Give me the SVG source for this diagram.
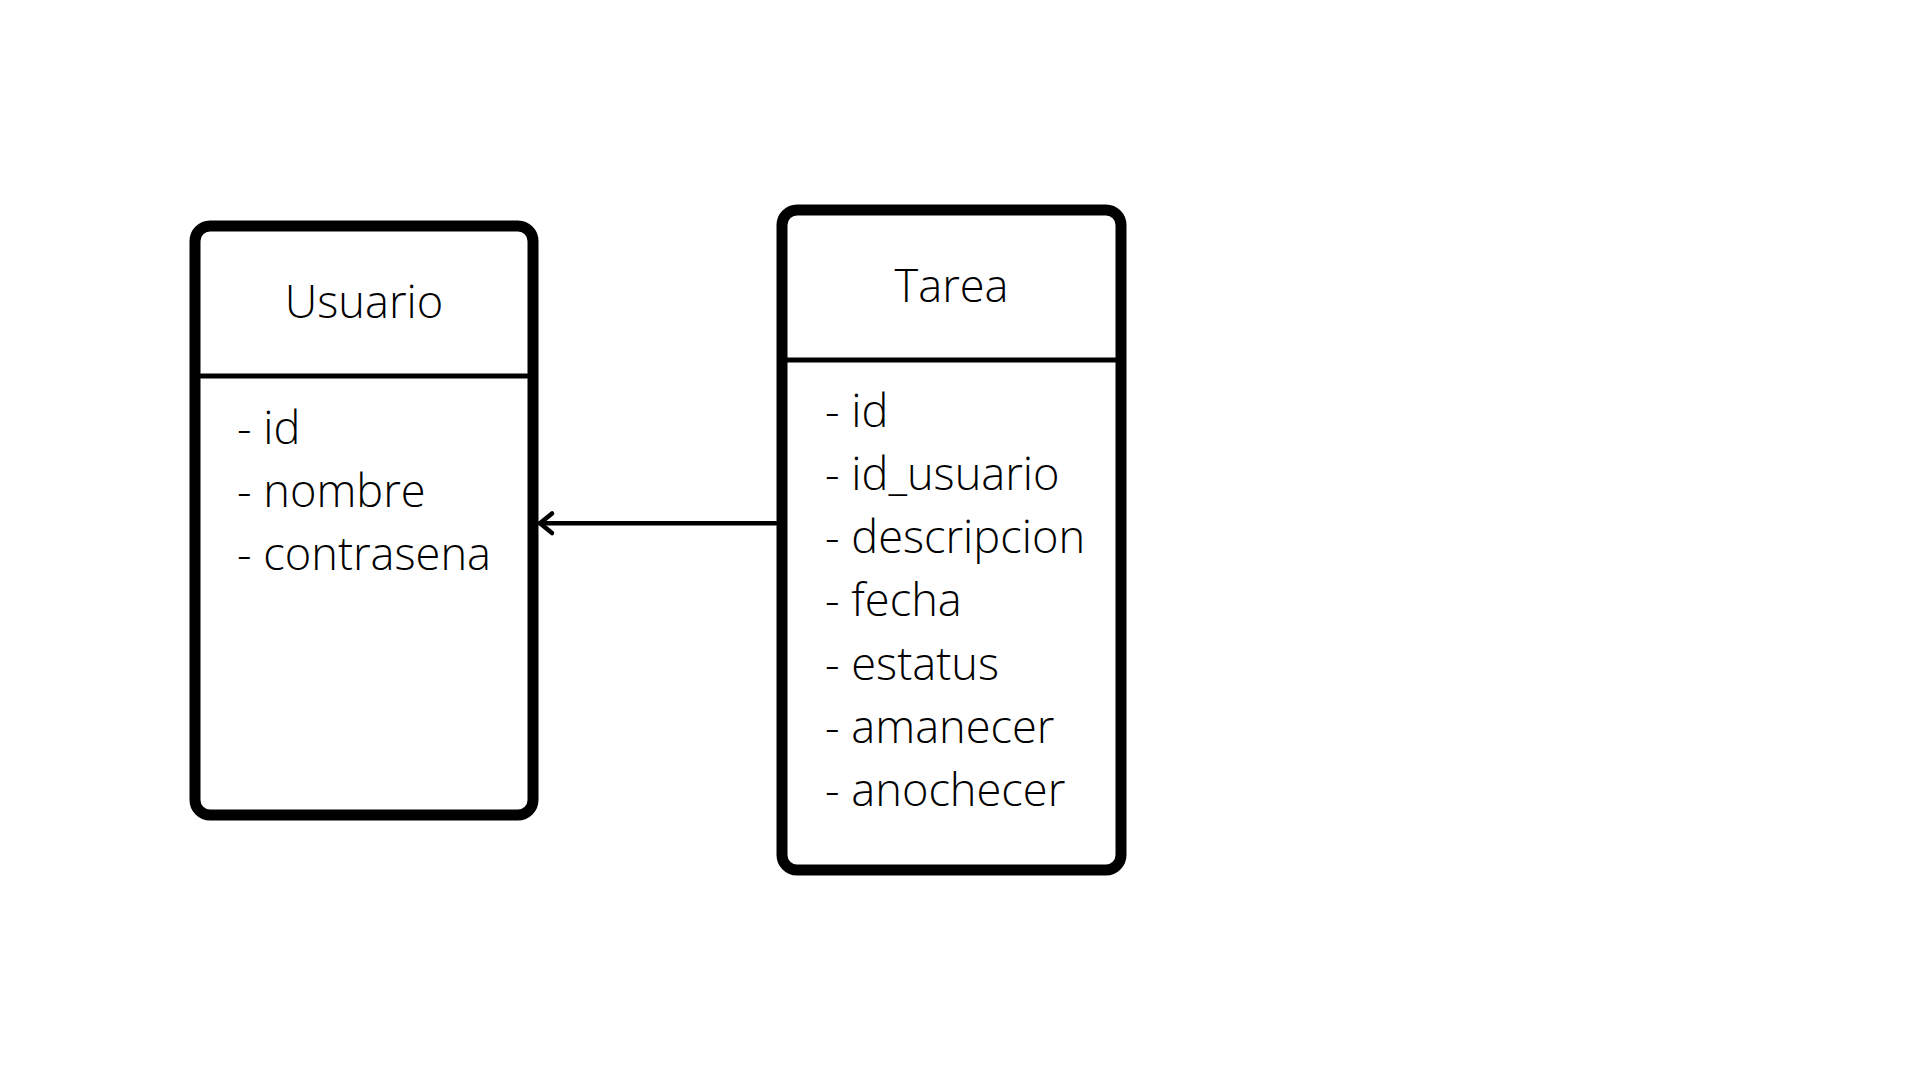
<svg xmlns="http://www.w3.org/2000/svg" width="1920" height="1080" viewBox="0 0 1920 1080">
<style>
.box{fill:#fff;stroke:#000;stroke-width:11}
.div{stroke:#000;stroke-width:5}
.t{font-family:"Open Sans","Liberation Sans",sans-serif;font-weight:300;font-size:45.2px;fill:#000}
.title{text-anchor:middle}
.conn{stroke:#000;stroke-width:4.5;fill:none;stroke-linecap:round;stroke-linejoin:round}
</style>
<rect width="1920" height="1080" fill="#fff"/>
<g id="usuario">
<rect class="box" x="195" y="226" width="338" height="589" rx="15" ry="15"/>
<line class="div" x1="200" y1="376" x2="528" y2="376"/>
<text class="t title" x="364" y="318">Usuario</text>
<text class="t" x="237" y="443.5">- id</text>
<text class="t" x="237" y="506.8">- nombre</text>
<text class="t" x="237" y="570">- contrasena</text>
</g>
<g id="tarea">
<rect class="box" x="782" y="210" width="339" height="660" rx="15" ry="15"/>
<line class="div" x1="787" y1="360" x2="1116" y2="360"/>
<text class="t title" x="951.5" y="302">Tarea</text>
<text class="t" x="825" y="426.7">- id</text>
<text class="t" x="825" y="489.9">- id_usuario</text>
<text class="t" x="825" y="553.1">- descripcion</text>
<text class="t" x="825" y="616.3">- fecha</text>
<text class="t" x="825" y="679.5">- estatus</text>
<text class="t" x="825" y="742.7">- amanecer</text>
<text class="t" x="825" y="805.9">- anochecer</text>
</g>
<g id="connectors">
<line class="conn" x1="776" y1="523.3" x2="540" y2="523.3"/>
<polyline class="conn" points="552,513.5 540,523.3 552,533"/>
</g>
</svg>
